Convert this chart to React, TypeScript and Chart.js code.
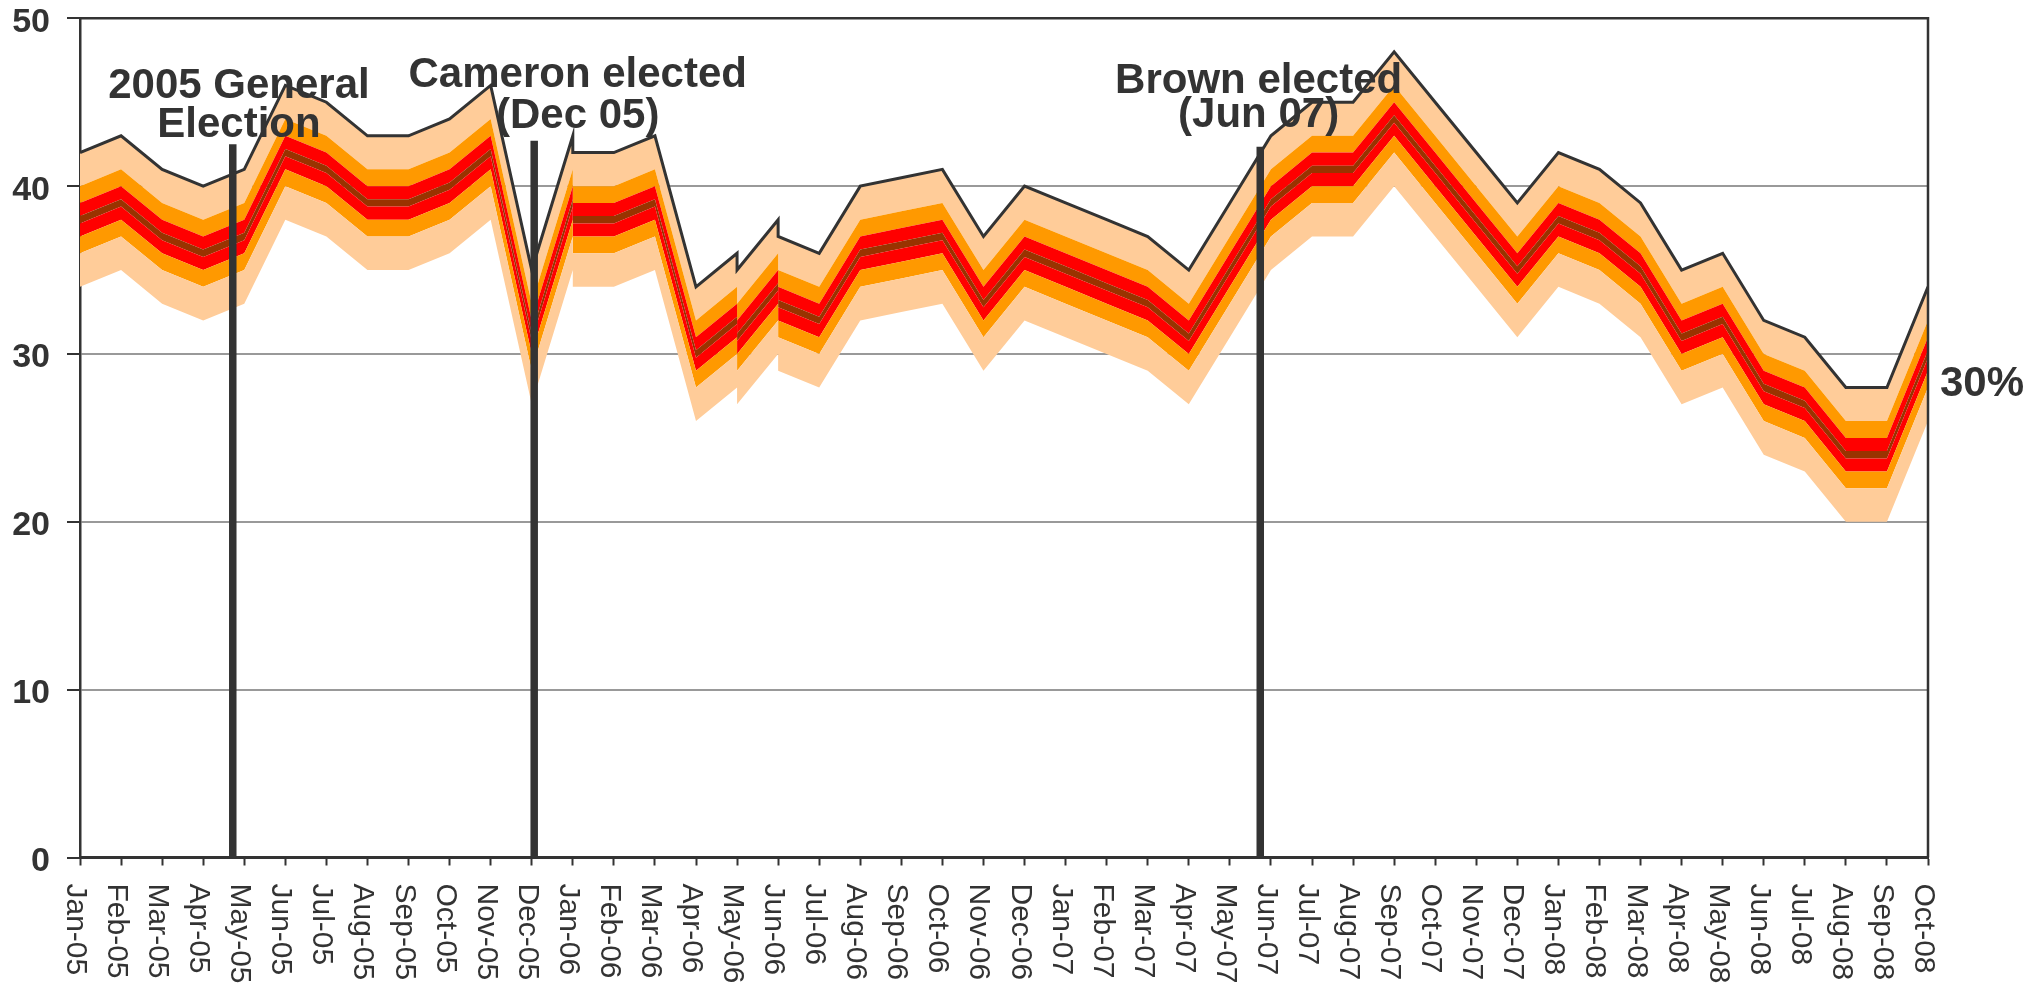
import React, { useEffect, useRef } from 'react';
import { Chart, registerables } from 'chart.js';

Chart.register(...registerables);

// ---- data -------------------------------------------------------------
const monthLabels = [
  'Jan-05', 'Feb-05', 'Mar-05', 'Apr-05', 'May-05', 'Jun-05', 'Jul-05', 'Aug-05', 'Sep-05', 'Oct-05', 'Nov-05', 'Dec-05',
  'Jan-06', 'Feb-06', 'Mar-06', 'Apr-06', 'May-06', 'Jun-06', 'Jul-06', 'Aug-06', 'Sep-06', 'Oct-06', 'Nov-06', 'Dec-06',
  'Jan-07', 'Feb-07', 'Mar-07', 'Apr-07', 'May-07', 'Jun-07', 'Jul-07', 'Aug-07', 'Sep-07', 'Oct-07', 'Nov-07', 'Dec-07',
  'Jan-08', 'Feb-08', 'Mar-08', 'Apr-08', 'May-08', 'Jun-08', 'Jul-08', 'Aug-08', 'Sep-08', 'Oct-08',
];

// month index (position on the axis) of each estimate; some months hold two estimates
const pointMonth = [
  0, 1, 2, 3, 4, 5, 6, 7, 8, 9, 10, 11,
  12, 12, 13, 14, 15, 16, 16, 17, 17, 18, 19, 20, 21, 22, 23,
  24, 25, 26, 27, 28, 29, 30, 31, 32, 33, 34, 35,
  36, 37, 38, 39, 40, 41, 42, 43, 44, 45,
];

// central estimate (%)
const central = [
  38, 39, 37, 36, 37, 42, 41, 39, 39, 40, 42, 31,
  39, 38, 38, 39, 30, 32, 31, 34, 33, 32, 36, 36.5, 37, 33, 36,
  35, 34, 33, 31, 35, 39, 41, 41, 44, 41, 38, 35,
  38, 37, 35, 31, 32, 28, 27, 24, 24, 30,
];

// fan bands: half-widths (outer -> inner) and colours
const bandHalfWidths = [4, 2, 1, 0.22];
const bandColors = ['#FFCC99', '#FF9900', '#FF0000', '#993300'];

const yTickStep = 10;
const yMin = 0;
const yMax = 50;

// event markers
const eventMonth = [3.72, 11.06, 28.74];
const eventTop = [42.5, 42.7, 42.35];
const eventLabelMonth = [3.87, 12.12, 28.7];
const eventLabelLines = [
  ['2005 General', 'Election'],
  ['Cameron elected', '(Dec 05)'],
  ['Brown elected', '(Jun 07)'],
];
const eventLabelBaselines = [
  [45.23, 42.91],
  [45.92, 43.45],
  [45.57, 43.5],
];

// ---- chart ------------------------------------------------------------
const INK = '#333333';
const FONT = '"Liberation Sans", Arial, Helvetica, sans-serif';

const overlayPlugin = {
  id: 'overlay',
  afterDraw(chart: any) {
    const { ctx, chartArea: a } = chart;
    const x = chart.scales.x;
    const y = chart.scales.y;
    ctx.save();

    // top and right frame
    ctx.strokeStyle = INK;
    ctx.lineWidth = 2.5;
    ctx.beginPath();
    ctx.moveTo(a.left, a.top);
    ctx.lineTo(a.right, a.top);
    ctx.lineTo(a.right, a.bottom);
    ctx.stroke();

    // month labels, rotated clockwise
    ctx.fillStyle = INK;
    ctx.font = `30px ${FONT}`;
    ctx.textAlign = 'left';
    ctx.textBaseline = 'alphabetic';
    monthLabels.forEach((lab, i) => {
      const px = x.getPixelForValue(i);
      ctx.save();
      ctx.translate(px - 13, a.bottom + 26);
      ctx.rotate(Math.PI / 2);
      ctx.fillText(lab, 0, 0);
      ctx.restore();
    });

    // event labels
    ctx.font = `bold 42px ${FONT}`;
    ctx.textAlign = 'center';
    eventLabelLines.forEach((lines, k) => {
      const px = x.getPixelForValue(eventLabelMonth[k]);
      lines.forEach((t, j) => {
        ctx.fillText(t, px, y.getPixelForValue(eventLabelBaselines[k][j]));
      });
    });

    // last value label
    const last = central[central.length - 1];
    ctx.textAlign = 'left';
    ctx.fillText(`${last}%`, a.right + 12, y.getPixelForValue(last) + 42);

    ctx.restore();
  },
};

export default function App() {
  const canvasRef = useRef<HTMLCanvasElement | null>(null);

  useEffect(() => {
    if (!canvasRef.current) return;

    const offsets = [
      ...bandHalfWidths.map((w) => -w),
      ...bandHalfWidths.slice().reverse(),
    ];
    const fillColors = [
      null,
      ...bandColors.slice(0, 3),
      bandColors[3],
      ...bandColors.slice(0, 3).reverse(),
    ];

    const bandDatasets = offsets.map((off, i) => ({
      type: 'line' as const,
      data: central.map((c, j) => ({ x: pointMonth[j], y: c + off })),
      borderColor: i === offsets.length - 1 ? INK : 'transparent',
      borderWidth: i === offsets.length - 1 ? 3 : 0,
      backgroundColor: fillColors[i] || 'transparent',
      fill: i === 0 ? false : '-1',
      pointRadius: 0,
      tension: 0,
      order: 1,
    }));

    const eventDatasets = eventMonth.map((m, k) => ({
      type: 'line' as const,
      data: [
        { x: m, y: yMin },
        { x: m, y: eventTop[k] },
      ],
      borderColor: INK,
      borderWidth: 7.5,
      borderCapStyle: 'butt' as const,
      fill: false,
      pointRadius: 0,
      order: 0,
    }));

    const chart = new Chart(canvasRef.current, {
      type: 'line',
      data: { datasets: [...bandDatasets, ...eventDatasets] as any },
      options: {
        responsive: false,
        animation: false,
        maintainAspectRatio: false,
        layout: { padding: { left: 0, right: 115, top: 18.3, bottom: 0 } },
        plugins: {
          legend: { display: false },
          tooltip: { enabled: false },
          title: { display: false },
        },
        scales: {
          x: {
            type: 'linear',
            min: 0,
            max: monthLabels.length - 1,
            ticks: { display: false, stepSize: 1, autoSkip: false },
            grid: {
              drawOnChartArea: false,
              drawTicks: true,
              tickLength: 8,
              tickColor: INK,
              tickWidth: 2,
            },
            border: { display: true, color: INK, width: 3 },
            afterFit: (s: any) => {
              s.height = 125.5;
              s.paddingLeft = 0;
              s.paddingRight = 0;
            },
          },
          y: {
            type: 'linear',
            min: yMin,
            max: yMax,
            ticks: {
              stepSize: yTickStep,
              padding: 17,
              labelOffset: 4,
              color: INK,
              font: { family: FONT, size: 34, weight: 'bold', lineHeight: 1 },
            },
            grid: {
              color: (c: any) =>
                c.tick && (c.tick.value === yMin || c.tick.value === yMax) ? 'rgba(0,0,0,0)' : '#999999',
              lineWidth: 2,
              tickColor: INK,
              tickLength: 13,
              tickWidth: 2,
            },
            border: { display: true, color: INK, width: 2.5 },
            afterFit: (s: any) => {
              s.width = 80;
              s.paddingTop = 0;
              s.paddingBottom = 0;
            },
          },
        },
      } as any,
      plugins: [overlayPlugin],
    });

    return () => chart.destroy();
  }, []);

  return (
    <div style={{ position: 'absolute', left: 0, top: 0, width: 2043, height: 983, background: '#ffffff' }}>
      <canvas ref={canvasRef} width={2043} height={983} style={{ width: 2043, height: 983, display: 'block' }} />
    </div>
  );
}
